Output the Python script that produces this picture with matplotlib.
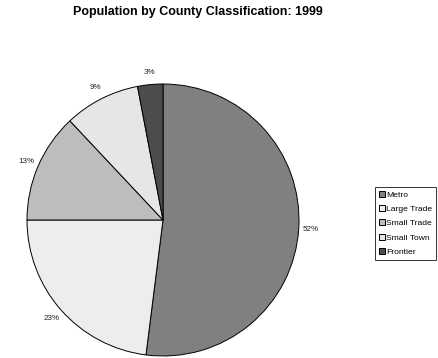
import matplotlib.pyplot as plt
import numpy as np

plt.rcParams['font.family'] = ['Liberation Sans', 'DejaVu Sans']

# Datos del gráfico
categories = ['Metro', 'Large Trade', 'Small Trade', 'Small Town', 'Frontier']
shares = [52, 23, 13, 9, 3]
colors = ['#808080', '#ededed', '#bdbdbd', '#e6e6e6', '#4c4c4c']

fig = plt.figure(figsize=(4.39, 3.58), dpi=100)
fig.patch.set_facecolor('white')

# Ejes del pastel (centro ~ (163, 220) px, radio ~136 px)
ax = fig.add_axes([27 / 439, 2 / 358, 272 / 439, 272 / 358])
wedges, texts, autotexts = ax.pie(
    shares, colors=colors, startangle=90, counterclock=False,
    autopct='%d%%', pctdistance=1.09,
    wedgeprops=dict(edgecolor='black', linewidth=0.7),
    textprops=dict(fontsize=5.8, color='#222222'))
ax.set_xlim(-1, 1)
ax.set_ylim(-1, 1)
ax.set_aspect('equal')
for w in wedges:
    w.set_clip_on(False)
for t in autotexts:
    t.set_clip_on(False)

fig.text(198 / 439, 1 - 12 / 358, 'Population by County Classification: 1999',
         ha='center', va='center', fontsize=9.0, fontweight='bold')

# Leyenda
leg = fig.legend(wedges, categories, loc='upper left',
                 bbox_to_anchor=(375 / 439, 1 - 187 / 358),
                 fontsize=6.1, frameon=True, fancybox=False, edgecolor='black',
                 handlelength=0.7, handleheight=0.7, handletextpad=0.2,
                 labelspacing=0.75, borderpad=0.45, borderaxespad=0)
leg.get_frame().set_linewidth(0.7)

fig.savefig('out.png', dpi=100)
